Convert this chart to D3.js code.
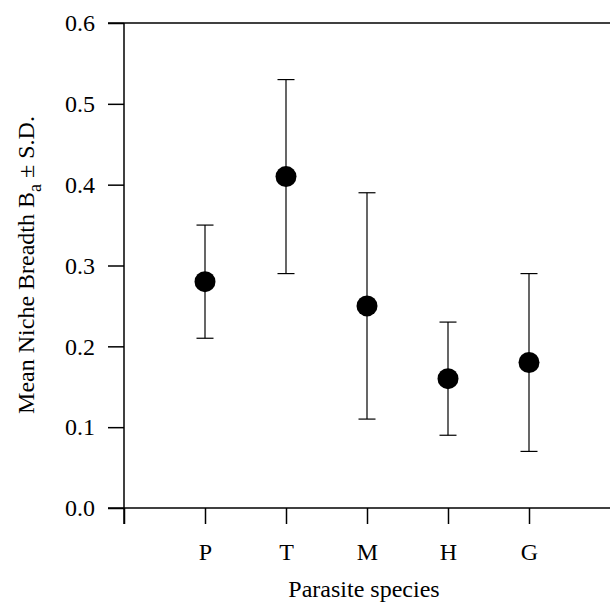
<!DOCTYPE html>
<html>
<head>
<meta charset="utf-8">
<script src="https://cdn.jsdelivr.net/npm/d3@7"></script>
<style>
  body { margin: 0; background: #fff; }
  text { font-family: "Liberation Serif", "Times New Roman", serif; fill: #000; }
</style>
</head>
<body>
<div id="chart"></div>
<script>
var species = ["P", "T", "M", "H", "G"],
    means = [0.28, 0.41, 0.25, 0.16, 0.18],
    sds = [0.07, 0.12, 0.14, 0.07, 0.11],
    yTicks = [0.0, 0.1, 0.2, 0.3, 0.4, 0.5, 0.6];

var W = 610, H = 610,
    plotL = 124, plotR = 610, plotT = 23, plotB = 508,
    tickLen = 16,
    serif = "'Liberation Serif', 'Times New Roman', serif",
    fs = "24px";

var svg = d3.select("#chart").append("svg")
    .attr("width", W)
    .attr("height", H);

var x = d3.scaleLinear().domain([0, 6]).range([plotL, plotR]);
var y = d3.scaleLinear().domain([0, 0.6]).range([plotB, plotT]);

// y axis
var yAxis = svg.append("g")
    .attr("transform", "translate(" + plotL + ",0)")
    .call(d3.axisLeft(y).tickValues(yTicks).tickFormat(d3.format(".1f")).tickSize(tickLen).tickPadding(13));
yAxis.select(".domain").remove();
yAxis.selectAll("line").attr("stroke", "#000").attr("stroke-width", 1.5);
yAxis.selectAll("text").style("font-family", serif).style("font-size", fs);

// x axis
var xAxis = svg.append("g")
    .attr("transform", "translate(0," + plotB + ")")
    .call(d3.axisBottom(x).tickValues([0, 1, 2, 3, 4, 5])
        .tickFormat(d => d === 0 ? "" : species[d - 1])
        .tickSize(tickLen).tickPadding(19));
xAxis.select(".domain").remove();
xAxis.selectAll("line").attr("stroke", "#000").attr("stroke-width", 1.5);
xAxis.selectAll("text").style("font-family", serif).style("font-size", fs);

// frame lines
svg.append("line").attr("x1", plotL - tickLen).attr("x2", plotR).attr("y1", plotT).attr("y2", plotT)
    .attr("stroke", "#000").attr("stroke-width", 1.5);
svg.append("line").attr("x1", plotL - tickLen).attr("x2", plotR).attr("y1", plotB).attr("y2", plotB)
    .attr("stroke", "#000").attr("stroke-width", 1.5);
svg.append("line").attr("x1", plotL).attr("x2", plotL).attr("y1", plotT).attr("y2", plotB + tickLen)
    .attr("stroke", "#000").attr("stroke-width", 1.5);

// error bars
var capW = 8.5;
var g = svg.append("g");
species.forEach(function(s, i) {
    var cx = x(i + 1);
    var lo = means[i] - sds[i], hi = means[i] + sds[i];
    g.append("line").attr("x1", cx).attr("x2", cx).attr("y1", y(lo)).attr("y2", y(hi))
        .attr("stroke", "#000").attr("stroke-width", 1.2);
    g.append("line").attr("x1", cx - capW).attr("x2", cx + capW).attr("y1", y(hi)).attr("y2", y(hi))
        .attr("stroke", "#000").attr("stroke-width", 1.2);
    g.append("line").attr("x1", cx - capW).attr("x2", cx + capW).attr("y1", y(lo)).attr("y2", y(lo))
        .attr("stroke", "#000").attr("stroke-width", 1.2);
});

g.selectAll("circle")
    .data(means)
    .enter().append("circle")
    .attr("cx", (d, i) => x(i + 1))
    .attr("cy", d => y(d))
    .attr("r", 10.5)
    .attr("fill", "#000");

// axis titles
svg.append("text")
    .attr("x", 364)
    .attr("y", 597)
    .attr("text-anchor", "middle")
    .style("font-size", fs)
    .text("Parasite species");

var yl = svg.append("text")
    .attr("transform", "translate(34,265) rotate(-90)")
    .attr("text-anchor", "middle")
    .style("font-size", fs);
yl.append("tspan").text("Mean Niche Breadth B");
yl.append("tspan").attr("dy", 7).style("font-size", "18px").text("a");
yl.append("tspan").attr("dy", -7).text(" ± S.D.");
</script>
</body>
</html>
